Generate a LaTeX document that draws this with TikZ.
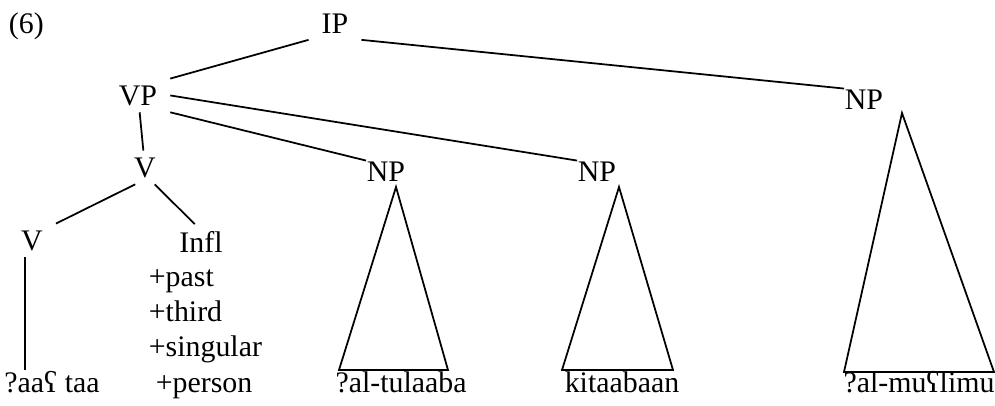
\documentclass[tikz,border=0pt]{standalone}
\usepackage{fontspec}
\setmainfont{Liberation Serif}
\begin{document}
\begin{tikzpicture}[x=0.02cm, y=-0.02cm, line width=1pt,
	every node/.style={font=\fontsize{17}{20}\selectfont},
	cat/.style={anchor=base, inner xsep=7pt, inner ysep=3.4pt},
	np/.style={anchor=base, inner sep=0pt},
	feat/.style={anchor=base west, inner sep=0pt},
	word/.style={anchor=base, inner sep=0pt}]
	\useasboundingbox (0,0) rectangle (995,406);

	\node[feat] (ex) at (8,33) {(6)};

	\node[cat] (IP)   at (335,33)  {IP};
	\node[cat] (VP)   at (138,105) {VP};
	\node[cat] (V)    at (145,177) {V};
	\node[cat] (Vl)   at (32,250)  {V};
	\node[cat] (Infl) at (201,252) {Infl};
	\node[np]  (NP1)  at (386,181) {NP};
	\node[np]  (NP2)  at (597,181) {NP};
	\node[np]  (NP3)  at (864,109) {NP};

	\node[feat] (f1) at (148,286) {+past};
	\node[feat] (f2) at (148,321) {+third};
	\node[feat] (f3) at (148,356) {+singular};
	\node[feat] (f4) at (155,392) {+person};

	\node[word] (w0) at (52,392)  {?aaʕ taa};
	\node[word] (w1) at (401,392) {?al-tulaaba};
	\node[word] (w2) at (622,392) {kitaabaan};
	\node[word] (w3) at (919,392) {?al-muʕlimu};

	\path [-] (IP.south west) edge (VP.north east);
	\path [-] (IP.south east) edge (NP3.north west);
	\path [-] (VP.east) edge (NP2.north west);
	\path [-] (VP.south east) edge (NP1.north west);
	\path [-] (VP) edge (V);
	\path [-] (V.-120) edge (Vl.north east);
	\path [-] (V.-60) edge (Infl.110);
	\path [-] ([xshift=-4pt]Vl.south) edge ([xshift=-4pt]Vl.south |- w0.north);

	% triangles
	\coordinate (t1) at (396,187);
	\coordinate (t2) at (619,187);
	\coordinate (t3) at (902,113);
	\draw (t1) -- (339,370) -- (448,370) -- cycle;
	\draw (t2) -- (562,370) -- (673,370) -- cycle;
	\draw (t3) -- (844,372) -- (994,372) -- cycle;
\end{tikzpicture}
\end{document}
